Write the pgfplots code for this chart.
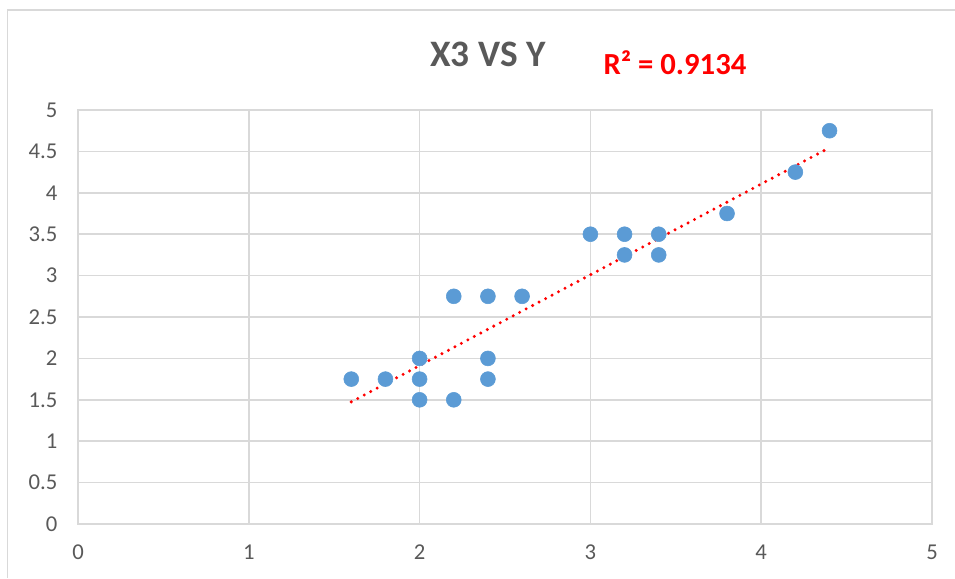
\documentclass[border=0pt]{standalone}
\usepackage{pgfplots}
\pgfplotsset{compat=1.18}
\usepackage{fontspec}
\setmainfont{Carlito}
\definecolor{gridc}{HTML}{D9D9D9}
\definecolor{txtc}{HTML}{595959}
\definecolor{ptc}{HTML}{5B9BD5}
\definecolor{redc}{HTML}{FF0000}
\begin{document}
\begin{tikzpicture}
\useasboundingbox (0pt,0pt) rectangle (716.25pt,-433.5pt);
\draw[gridc,line width=1.1pt] (5.625pt,-433.5pt) -- (5.625pt,-7.5pt) -- (716.25pt,-7.5pt);
\begin{axis}[
  at={(58.5pt,-393pt)}, anchor=south west,
  scale only axis, width=640.5pt, height=310.5pt,
  xmin=0, xmax=5, ymin=0, ymax=5,
  xtick={0,1,2,3,4,5}, ytick={0,0.5,1,1.5,2,2.5,3,3.5,4,4.5,5},
  yticklabels={0,0.5,1,1.5,2,2.5,3,3.5,4,4.5,5},
  xticklabels={0,1,2,3,4,5},
  grid=major, major grid style={gridc,line width=1.1pt},
  axis line style={gridc,line width=1.1pt},
  major tick length=0pt,
  tick label style={txtc,font=\fontsize{17}{20}\selectfont},
  xticklabel style={yshift=-12pt},
  yticklabel style={xshift=-12pt},
  /pgf/number format/assume math mode=true,
  clip=false,
]
\addplot[only marks, color=ptc, mark=*, mark size=5.6pt, mark options={draw=ptc,fill=ptc}] coordinates {
(1.6,1.75) (1.8,1.75) (2,2) (2,1.75) (2,1.5) (2.2,2.75) (2.2,1.5)
(2.4,2.75) (2.4,2) (2.4,1.75) (2.6,2.75) (3,3.5) (3.2,3.5) (3.2,3.25)
(3.4,3.5) (3.4,3.25) (3.8,3.75) (4.2,4.25) (4.4,4.75)
};
\addplot[redc, line width=2.5pt, line cap=round, dash pattern=on 0pt off 5.5pt] coordinates {
(1.6,1.475) (4.4,4.545)
};
\end{axis}
\node[txtc,font=\fontsize{28}{32}\selectfont\bfseries] at (366pt,-40.5pt) {X3 VS Y};
\node[redc,font=\fontsize{23}{27}\selectfont\bfseries] at (506.25pt,-47.25pt) {R² = 0.9134};
\end{tikzpicture}
\end{document}
